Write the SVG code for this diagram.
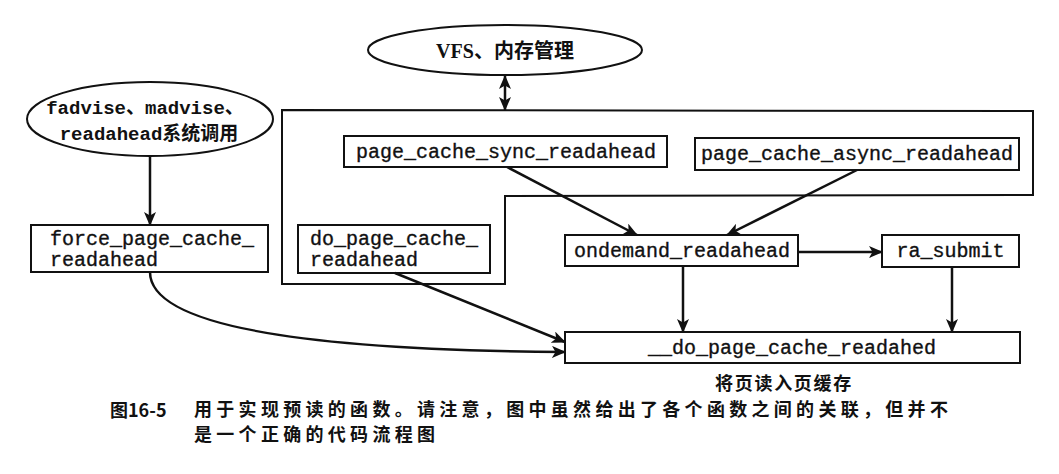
<svg xmlns="http://www.w3.org/2000/svg" width="1059" height="474" viewBox="0 0 1059 474">
<style>
.box{fill:#fff;stroke:#111;stroke-width:2}
.ell{fill:#fff;stroke:#111;stroke-width:2}
.mono{font-family:"Liberation Mono","DejaVu Sans Mono",monospace;font-size:20px;fill:#111;stroke:#111;stroke-width:0.35}
.ellt{font-family:"Liberation Mono","Noto Sans CJK SC",monospace;font-size:19px;font-weight:bold;fill:#111}
.cjk{font-family:"Noto Sans CJK SC",sans-serif;fill:#111}
.con{fill:none;stroke:#111;stroke-width:2.5}
</style>
<defs>
<marker id="ah" markerUnits="userSpaceOnUse" markerWidth="14" markerHeight="12" refX="13" refY="6" orient="auto-start-reverse" viewBox="0 0 14 12">
<path d="M0,0 L14,6 L0,12 L3.5,6 z" fill="#111"/>
</marker>
</defs>
<rect width="1059" height="474" fill="#fff"/>

<g id="container">
<path d="M282,110 L1033,111 L1033,195 L505,196 L505,284 L282,284 Z" fill="none" stroke="#111" stroke-width="2"/>
</g>

<g id="vfs">
<ellipse class="ell" cx="505" cy="50" rx="137" ry="25"/>
<text x="505" y="58" text-anchor="middle" font-size="20" font-weight="bold" fill="#111"><tspan font-family="Liberation Serif,serif">VFS</tspan><tspan font-family="Noto Sans CJK SC,sans-serif">、内存管理</tspan></text>
</g>

<g id="syscalls">
<ellipse class="ell" cx="150" cy="119" rx="123" ry="37"/>
<text class="ellt" x="145" y="114" text-anchor="middle">fadvise、madvise、</text>
<text class="ellt" x="149" y="140" text-anchor="middle">readahead<tspan font-family="Noto Sans CJK SC,sans-serif">系统调用</tspan></text>
</g>

<g id="sync">
<rect class="box" x="344" y="136" width="323" height="31"/>
<text class="mono" x="506" y="158" text-anchor="middle">page_cache_sync_readahead</text>
</g>

<g id="async">
<rect class="box" x="695" y="138" width="324" height="32"/>
<text class="mono" x="857" y="160" text-anchor="middle">page_cache_async_readahead</text>
</g>

<g id="force">
<rect class="box" x="31" y="225" width="237" height="47"/>
<text class="mono" x="50" y="245">force_page_cache_</text>
<text class="mono" x="50" y="266">readahead</text>
</g>

<g id="dopage">
<rect class="box" x="298" y="225" width="192" height="48"/>
<text class="mono" x="310" y="245">do_page_cache_</text>
<text class="mono" x="310" y="266">readahead</text>
</g>

<g id="ondemand">
<rect class="box" x="565" y="235" width="233" height="31"/>
<text class="mono" x="682" y="257" text-anchor="middle">ondemand_readahead</text>
</g>

<g id="rasubmit">
<rect class="box" x="882" y="235" width="137" height="32"/>
<text class="mono" x="950.5" y="257" text-anchor="middle">ra_submit</text>
</g>

<g id="dodo">
<rect class="box" x="565" y="332" width="455" height="31"/>
<text class="mono" x="792" y="354" text-anchor="middle">__do_page_cache_readahed</text>
</g>

<g id="label">
<text class="cjk" x="784" y="390" text-anchor="middle" font-size="18" font-weight="bold" letter-spacing="1.7">将页读入页缓存</text>
</g>

<g id="connectors">
<line class="con" x1="150" y1="156" x2="150" y2="225" marker-end="url(#ah)"/>
<line class="con" x1="505" y1="76" x2="505" y2="110" marker-start="url(#ah)" marker-end="url(#ah)"/>
<line class="con" x1="507" y1="167" x2="637" y2="235" marker-end="url(#ah)"/>
<line class="con" x1="857" y1="170" x2="727" y2="235" marker-end="url(#ah)"/>
<line class="con" x1="798" y1="252" x2="882" y2="252" marker-end="url(#ah)"/>
<line class="con" x1="683" y1="266" x2="683" y2="332" marker-end="url(#ah)"/>
<line class="con" x1="952" y1="267" x2="952" y2="332" marker-end="url(#ah)"/>
<line class="con" x1="395" y1="273" x2="565" y2="342" marker-end="url(#ah)"/>
<path class="con" d="M150,272 C150,322 280,350 565,352" marker-end="url(#ah)"/>
</g>

<g id="caption">
<text class="cjk" x="110" y="417" font-size="18" font-weight="bold">图16-5</text>
<text class="cjk" x="194" y="416" font-size="18" font-weight="bold" letter-spacing="4.3">用于实现预读的函数。请注意，图中虽然给出了各个函数之间的关联，但并不</text>
<text class="cjk" x="194" y="441" font-size="18" font-weight="bold" letter-spacing="4.3">是一个正确的代码流程图</text>
</g>
</svg>
